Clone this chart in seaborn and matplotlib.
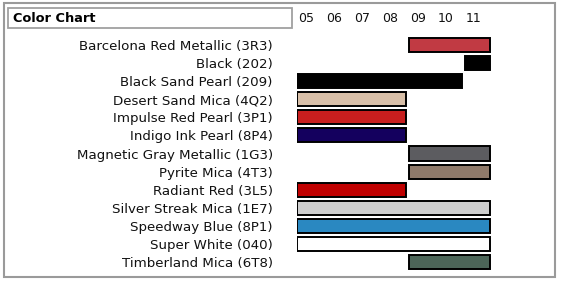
import matplotlib
matplotlib.use("Agg")
import matplotlib.pyplot as plt
import seaborn as sns
import pandas as pd
from matplotlib.patches import Rectangle
from matplotlib.transforms import blended_transform_factory

names = ["Barcelona Red Metallic (3R3)", "Black (202)", "Black Sand Pearl (209)",
         "Desert Sand Mica (4Q2)", "Impulse Red Pearl (3P1)", "Indigo Ink Pearl (8P4)",
         "Magnetic Gray Metallic (1G3)", "Pyrite Mica (4T3)", "Radiant Red (3L5)",
         "Silver Streak Mica (1E7)", "Speedway Blue (8P1)", "Super White (040)",
         "Timberland Mica (6T8)"]
start_year = [9, 11, 5, 5, 5, 5, 9, 9, 5, 5, 5, 5, 9]
end_year = [11, 11, 10, 8, 8, 8, 11, 11, 8, 11, 11, 11, 11]
swatches = ["#c13a43", "#000000", "#000000", "#d8bfa8", "#c81e1e", "#14005e",
            "#5c5c60", "#8f7a6a", "#c00000", "#cecece", "#2a88c1", "#ffffff",
            "#4c6558"]
years = [5, 6, 7, 8, 9, 10, 11]
year_labels = ["05", "06", "07", "08", "09", "10", "11"]
title = "Color Chart"

sns.set_theme(style="white")
plt.rcParams["font.family"] = ["DejaVu Sans"]

W, H = 564, 285
fig = plt.figure(figsize=(W / 100, H / 100), dpi=100)
fig.patch.set_facecolor("white")

# axes: x 297..493 px, y 36..271 px
ax = fig.add_axes([297 / W, 1 - 271 / H, 196 / W, 235 / H])
ax.set_facecolor("none")

gap = 0.1
df = pd.DataFrame({
    "name": names,
    "start": start_year,
    "span": [e - s + 1 - gap for s, e in zip(start_year, end_year)],
})
sns.barplot(data=df, x="span", y="name", orient="y", left=df["start"].values,
            width=0.78, color="#000000", edgecolor="#000000", linewidth=1.4,
            ax=ax, errorbar=None)
for patch, c in zip(ax.patches, swatches):
    patch.set_facecolor(c)

ax.set_xlim(5, 12)
ax.set_ylim(len(names) - 0.5, -0.5)
ax.set_xlabel("")
ax.set_ylabel("")
ax.set_xticks([])
for s in ax.spines.values():
    s.set_visible(False)
ax.tick_params(axis="y", length=0, pad=17.5, labelsize=9.6, labelcolor="#111111")

trans = blended_transform_factory(ax.transData, fig.transFigure)
for yv, lab in zip(years, year_labels):
    ax.text(yv + 0.04, 1 - 18 / H, lab, transform=trans, ha="left", va="center",
            fontsize=9, color="#111111")

# outer frame
fig.add_artist(Rectangle((4 / W, 1 - 277 / H), 551 / W, 274 / H,
                         transform=fig.transFigure, fill=False,
                         edgecolor="#9a9a9a", linewidth=1.5))
# title box
fig.add_artist(Rectangle((8 / W, 1 - 28 / H), 284 / W, 20 / H,
                         transform=fig.transFigure, fill=False,
                         edgecolor="#a0a0a0", linewidth=1.3))
fig.text(13 / W, 1 - 18 / H, title, ha="left", va="center", fontsize=9.3,
         fontweight="bold", color="#000000")

fig.savefig("out.png", dpi=100)
